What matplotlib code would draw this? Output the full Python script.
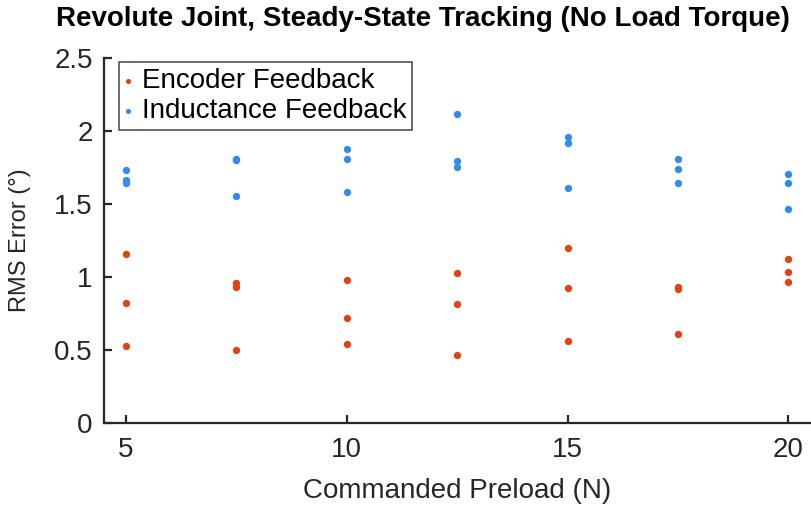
import matplotlib
matplotlib.use("Agg")
import matplotlib.pyplot as plt

plt.rcParams['font.family'] = ['Liberation Sans', 'DejaVu Sans']

preload = [5, 7.5, 10, 12.5, 15, 17.5, 20]

# three trials per preload
encoder = [
    [1.155, 0.819, 0.525],
    [0.958, 0.935, 0.503],
    [0.980, 0.720, 0.541],
    [1.030, 0.817, 0.466],
    [1.198, 0.924, 0.564],
    [0.935, 0.919, 0.611],
    [1.121, 1.035, 0.969],
]
inductance = [
    [1.732, 1.664, 1.646],
    [1.807, 1.805, 1.558],
    [1.879, 1.811, 1.580],
    [2.115, 1.793, 1.757],
    [1.958, 1.918, 1.607],
    [1.809, 1.743, 1.641],
    [1.707, 1.641, 1.465],
]

red = '#DE4513'
blue = '#358AEE'
dark = '#262626'
fs = 20

fig = plt.figure(figsize=(8.12, 5.07), dpi=100)
ax = fig.add_axes([0.128, 0.1657, 0.87, 0.7197])

ex = [p for p, trials in zip(preload, encoder) for _ in trials]
ey = [v for trials in encoder for v in trials]
ix = [p for p, trials in zip(preload, inductance) for _ in trials]
iy = [v for trials in inductance for v in trials]

ax.scatter(ex, ey, s=28, color=red, linewidths=0, label='Encoder Feedback')
ax.scatter(ix, iy, s=28, color=blue, linewidths=0, label='Inductance Feedback')

ax.set_xlim(4.5, 20.5)
ax.set_ylim(0, 2.5)
ax.set_xticks([5, 10, 15, 20])
ax.set_yticks([0, 0.5, 1, 1.5, 2, 2.5])
ax.set_yticklabels(['0', '0.5', '1', '1.5', '2', '2.5'])

for s in ['top', 'right']:
    ax.spines[s].set_visible(False)
for s in ['left', 'bottom']:
    ax.spines[s].set_linewidth(1.6)
    ax.spines[s].set_color(dark)

ax.tick_params(direction='in', length=6, width=1.6, color=dark,
               labelsize=fs, labelcolor=dark)
ax.tick_params(axis='y', pad=8)
ax.tick_params(axis='x', pad=10)

ax.set_xlabel('Commanded Preload (N)', fontsize=fs, color=dark)
ax.xaxis.set_label_coords(0.5, -0.15)
ax.set_ylabel('RMS Error (°)', fontsize=17, color=dark)
ax.yaxis.set_label_coords(-0.103, 0.5)

fig.text(423 / 812, 1 - 19 / 507, 'Revolute Joint, Steady-State Tracking (No Load Torque)',
         fontsize=20, fontweight='bold', ha='center', va='center')

leg = ax.legend(loc='upper left', bbox_to_anchor=(0.021, 0.99), fontsize=fs,
                frameon=True, fancybox=False, handlelength=0.2, handletextpad=0.4,
                borderpad=0.22, labelspacing=0.15, borderaxespad=0, markerscale=0.7)
leg.get_frame().set_edgecolor(dark)
leg.get_frame().set_linewidth(1.2)

fig.savefig('out.png', dpi=100)
